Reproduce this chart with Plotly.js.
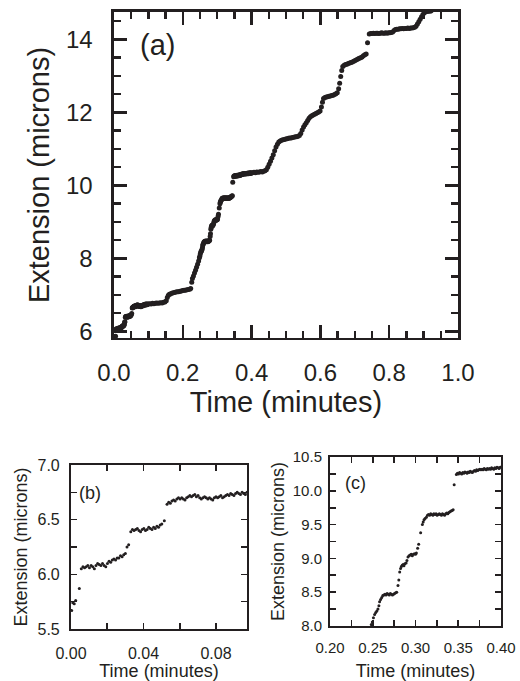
<!DOCTYPE html>
<html><head><meta charset="utf-8">
<script src="https://cdn.plot.ly/plotly-3.0.1.min.js"></script>
<style>html,body{margin:0;padding:0;background:#fff}#chart{width:520px;height:681px}</style>
</head><body><div id="chart"></div>
<script>
// Segment 1: 0 - 0.097 min (also shown in panel b)
const seg1Time = [0.0004,0.0010,0.0018,0.0026,0.0046,0.0057,0.0066,0.0075,0.0084,0.0093,0.0102,0.0111,0.0120,0.0129,0.0138,0.0147,0.0156,0.0165,0.0174,0.0183,0.0192,0.0201,0.0210,0.0219,0.0228,0.0237,0.0246,0.0255,0.0264,0.0273,0.0282,0.0291,0.0300,0.0309,0.0318,0.0330,0.0339,0.0348,0.0357,0.0366,0.0375,0.0384,0.0393,0.0402,0.0411,0.0420,0.0429,0.0438,0.0447,0.0456,0.0465,0.0474,0.0483,0.0492,0.0501,0.0515,0.0530,0.0539,0.0548,0.0557,0.0566,0.0575,0.0584,0.0593,0.0602,0.0611,0.0620,0.0629,0.0638,0.0647,0.0656,0.0665,0.0674,0.0683,0.0692,0.0701,0.0710,0.0719,0.0728,0.0737,0.0746,0.0755,0.0764,0.0773,0.0782,0.0791,0.0800,0.0809,0.0818,0.0827,0.0836,0.0845,0.0854,0.0863,0.0872,0.0881,0.0890,0.0899,0.0908,0.0917,0.0926,0.0935,0.0944,0.0953,0.0962,0.0971];
const seg1Ext = [5.67,5.74,5.73,5.76,5.87,6.05,6.07,6.06,6.07,6.08,6.06,6.08,6.07,6.05,6.08,6.10,6.09,6.08,6.10,6.08,6.07,6.10,6.12,6.11,6.13,6.14,6.13,6.15,6.15,6.17,6.16,6.18,6.19,6.25,6.27,6.39,6.41,6.40,6.41,6.42,6.40,6.39,6.41,6.42,6.40,6.41,6.43,6.42,6.41,6.43,6.42,6.44,6.43,6.45,6.46,6.49,6.64,6.66,6.65,6.67,6.68,6.67,6.69,6.70,6.69,6.70,6.69,6.68,6.70,6.71,6.72,6.71,6.72,6.73,6.71,6.72,6.70,6.69,6.70,6.71,6.70,6.69,6.70,6.69,6.68,6.70,6.71,6.70,6.71,6.72,6.70,6.71,6.72,6.73,6.72,6.74,6.73,6.72,6.74,6.75,6.74,6.73,6.75,6.74,6.73,6.75];

// Segment 2: 0.10 - 0.246 min
const seg2Time = [0.100,0.104,0.108,0.112,0.116,0.120,0.124,0.128,0.132,0.136,0.140,0.144,0.148,0.152,0.155,0.158,0.161,0.164,0.168,0.172,0.176,0.180,0.184,0.188,0.192,0.196,0.200,0.204,0.208,0.212,0.216,0.220,0.223,0.226,0.228,0.231,0.234,0.237,0.240,0.243,0.246];
const seg2Ext = [6.75,6.76,6.75,6.77,6.76,6.77,6.78,6.77,6.78,6.79,6.78,6.80,6.81,6.84,6.93,6.99,7.02,7.03,7.05,7.06,7.07,7.08,7.09,7.09,7.10,7.11,7.12,7.13,7.13,7.14,7.15,7.16,7.18,7.35,7.45,7.52,7.60,7.68,7.76,7.84,7.93];

// Segment 3: 0.248 - 0.40 min (also shown in panel c)
const seg3Time = [0.2483,0.2495,0.2508,0.2522,0.2535,0.2548,0.2561,0.2572,0.2580,0.2592,0.2605,0.2618,0.2630,0.2643,0.2655,0.2668,0.2680,0.2693,0.2705,0.2718,0.2730,0.2743,0.2755,0.2768,0.2780,0.2795,0.2805,0.2815,0.2825,0.2835,0.2845,0.2855,0.2865,0.2875,0.2890,0.2900,0.2912,0.2925,0.2938,0.2950,0.2963,0.2975,0.2988,0.3000,0.3010,0.3025,0.3037,0.3060,0.3080,0.3090,0.3100,0.3112,0.3127,0.3140,0.3152,0.3165,0.3178,0.3190,0.3203,0.3215,0.3228,0.3240,0.3253,0.3265,0.3278,0.3290,0.3303,0.3315,0.3328,0.3340,0.3353,0.3365,0.3378,0.3390,0.3403,0.3415,0.3428,0.3440,0.3452,0.3478,0.3490,0.3503,0.3515,0.3528,0.3540,0.3553,0.3565,0.3578,0.3590,0.3603,0.3615,0.3628,0.3640,0.3653,0.3665,0.3678,0.3690,0.3703,0.3715,0.3728,0.3740,0.3753,0.3765,0.3778,0.3790,0.3803,0.3815,0.3828,0.3840,0.3853,0.3865,0.3878,0.3890,0.3903,0.3915,0.3928,0.3940,0.3953,0.3965,0.3978,0.3990];
const seg3Ext = [8.02,8.06,8.12,8.17,8.20,8.22,8.25,8.30,8.36,8.39,8.42,8.45,8.46,8.47,8.46,8.48,8.47,8.46,8.48,8.47,8.46,8.47,8.48,8.49,8.50,8.60,8.68,8.80,8.85,8.88,8.90,8.91,8.89,8.92,8.93,8.97,9.02,9.04,9.05,9.06,9.04,9.06,9.07,9.06,9.08,9.15,9.21,9.38,9.50,9.54,9.57,9.59,9.61,9.64,9.65,9.64,9.66,9.65,9.64,9.66,9.65,9.66,9.64,9.65,9.66,9.65,9.64,9.66,9.65,9.64,9.66,9.67,9.66,9.68,9.69,9.70,9.71,9.72,10.09,10.24,10.26,10.25,10.27,10.26,10.25,10.27,10.26,10.28,10.27,10.26,10.28,10.27,10.29,10.28,10.27,10.29,10.30,10.29,10.31,10.30,10.31,10.32,10.31,10.32,10.31,10.33,10.32,10.31,10.33,10.32,10.33,10.32,10.34,10.33,10.32,10.34,10.33,10.35,10.34,10.33,10.35];

// Segment 4: 0.40 - 0.92 min
const seg4Time = [0.403,0.407,0.411,0.415,0.419,0.423,0.427,0.431,0.435,0.439,0.443,0.447,0.451,0.455,0.459,0.463,0.467,0.471,0.475,0.479,0.483,0.487,0.491,0.495,0.499,0.503,0.507,0.511,0.515,0.519,0.523,0.527,0.531,0.535,0.539,0.543,0.547,0.551,0.555,0.559,0.563,0.567,0.571,0.575,0.579,0.583,0.587,0.591,0.595,0.599,0.603,0.606,0.609,0.613,0.617,0.621,0.625,0.629,0.633,0.637,0.641,0.645,0.649,0.653,0.656,0.659,0.662,0.665,0.669,0.673,0.677,0.681,0.685,0.689,0.693,0.697,0.701,0.705,0.709,0.713,0.717,0.721,0.725,0.729,0.733,0.737,0.742,0.746,0.750,0.754,0.758,0.762,0.766,0.770,0.774,0.778,0.782,0.786,0.790,0.794,0.798,0.802,0.806,0.810,0.814,0.818,0.822,0.826,0.830,0.834,0.838,0.842,0.846,0.850,0.854,0.858,0.862,0.866,0.870,0.874,0.878,0.882,0.886,0.890,0.894,0.898,0.902,0.906,0.910,0.914,0.918,0.922];
const seg4Ext = [10.35,10.36,10.35,10.37,10.36,10.37,10.38,10.37,10.39,10.40,10.43,10.50,10.58,10.66,10.75,10.84,10.95,11.05,11.13,11.19,11.22,11.24,11.25,11.26,11.27,11.28,11.29,11.30,11.30,11.31,11.32,11.33,11.33,11.35,11.37,11.42,11.52,11.60,11.66,11.72,11.78,11.84,11.88,11.91,11.93,11.95,11.97,11.99,12.01,12.04,12.15,12.28,12.38,12.41,12.42,12.43,12.44,12.45,12.46,12.47,12.49,12.51,12.54,12.65,12.80,12.98,13.15,13.26,13.29,13.31,13.32,13.34,13.35,13.37,13.38,13.40,13.42,13.44,13.46,13.48,13.50,13.52,13.55,13.58,13.60,13.91,14.15,14.16,14.16,14.17,14.16,14.17,14.17,14.16,14.17,14.18,14.17,14.17,14.18,14.17,14.18,14.18,14.19,14.20,14.24,14.27,14.28,14.28,14.29,14.29,14.30,14.29,14.30,14.30,14.31,14.30,14.31,14.31,14.32,14.33,14.36,14.42,14.48,14.55,14.62,14.68,14.73,14.75,14.76,14.77,14.77,14.78];

const panelLabels = ['(a)', '(b)', '(c)'];
const xTitle = 'Time (minutes)';
const yTitle = 'Extension (microns)';

const allTime = seg1Time.concat(seg2Time, seg3Time, seg4Time);
const allExt = seg1Ext.concat(seg2Ext, seg3Ext, seg4Ext);

const ink = '#231f20';
const fam = 'Liberation Sans, Arial, Helvetica, sans-serif';

const traces = [
  {x: allTime, y: allExt, xaxis: 'x', yaxis: 'y', type: 'scatter', mode: 'markers',
   marker: {size: 5, color: ink}, cliponaxis: true, showlegend: false, hoverinfo: 'x+y'},
  {x: seg1Time, y: seg1Ext, xaxis: 'x2', yaxis: 'y2', type: 'scatter', mode: 'markers',
   marker: {size: 3, color: ink}, cliponaxis: true, showlegend: false},
  {x: allTime, y: allExt, xaxis: 'x3', yaxis: 'y3', type: 'scatter', mode: 'markers',
   marker: {size: 3, color: ink}, cliponaxis: true, showlegend: false}
];

function ax(o) {
  const big = o.big;
  return Object.assign({
    showgrid: false, zeroline: false, showline: true, mirror: 'allticks',
    linecolor: ink, linewidth: big ? 2.5 : 2,
    ticks: 'inside', ticklen: big ? 13 : 6, tickwidth: big ? 2.5 : 1.6, tickcolor: ink,
    tickfont: {family: fam, size: o.tf || 24, color: ink},
    minor: {ticks: 'inside', ticklen: big ? 7 : 6, tickwidth: big ? 2.5 : 1.6, tickcolor: ink, dtick: o.minor},
    fixedrange: true
  }, o.rest);
}

const layout = {
  width: 520, height: 681,
  margin: {l: 0, r: 0, t: 0, b: 0},
  paper_bgcolor: '#fff', plot_bgcolor: '#fff',
  font: {family: fam, color: ink},
  showlegend: false,
  xaxis: ax({big: true, minor: 0.05, rest: {domain: [0.2192, 0.8808], range: [0, 1.0], dtick: 0.2, tick0: 0, tickformat: '.1f', anchor: 'y', ticklabelstandoff: 12,
    title: {text: xTitle, font: {family: fam, size: 29, color: ink}, standoff: 7}}}),
  yaxis: ax({big: true, minor: 0.5, rest: {domain: [0.5037, 0.9824], range: [5.822, 14.75], dtick: 2, tick0: 0, anchor: 'x', ticklabelstandoff: 14,
    title: {text: yTitle, font: {family: fam, size: 29, color: ink}, standoff: 8}}}),
  xaxis2: ax({big: false, tf: 16, minor: 0.02, rest: {domain: [0.1365, 0.475], range: [0, 0.0971], dtick: 0.04, tick0: 0, tickformat: '.2f', anchor: 'y2', ticklabelstandoff: 9,
    title: {text: xTitle, font: {family: fam, size: 18, color: ink}, standoff: 7}}}),
  yaxis2: ax({big: false, tf: 16, minor: 0.25, rest: {domain: [0.0764, 0.3172], range: [5.5, 7.0], dtick: 0.5, tick0: 0, tickformat: '.1f', anchor: 'x2', ticklabelstandoff: 6,
    title: {text: yTitle, font: {family: fam, size: 18, color: ink}, standoff: 5}}}),
  xaxis3: ax({big: false, tf: 15, minor: 0.025, rest: {domain: [0.6346, 0.9635], range: [0.2, 0.4], dtick: 0.05, tick0: 0, tickformat: '.2f', anchor: 'y3', ticklabelstandoff: 7,
    title: {text: xTitle, font: {family: fam, size: 18, color: ink}, standoff: 9}}}),
  yaxis3: ax({big: false, tf: 15, minor: 0.25, rest: {domain: [0.0808, 0.3289], range: [8.0, 10.5], dtick: 0.5, tick0: 0, tickformat: '.1f', anchor: 'x3', ticklabelstandoff: 3,
    title: {text: yTitle, font: {family: fam, size: 18, color: ink}, standoff: 3}}}),
  annotations: [
    {text: panelLabels[0], xref: 'paper', yref: 'paper', x: 0.3038, y: 0.934, xanchor: 'center', yanchor: 'middle', showarrow: false, font: {family: fam, size: 29, color: ink}},
    {text: panelLabels[1], xref: 'paper', yref: 'paper', x: 0.173, y: 0.276, xanchor: 'center', yanchor: 'middle', showarrow: false, font: {family: fam, size: 18, color: ink}},
    {text: panelLabels[2], xref: 'paper', yref: 'paper', x: 0.683, y: 0.291, xanchor: 'center', yanchor: 'middle', showarrow: false, font: {family: fam, size: 18, color: ink}}
  ]
};

Plotly.newPlot('chart', traces, layout, {staticPlot: true, displayModeBar: false});
</script>
</body></html>
